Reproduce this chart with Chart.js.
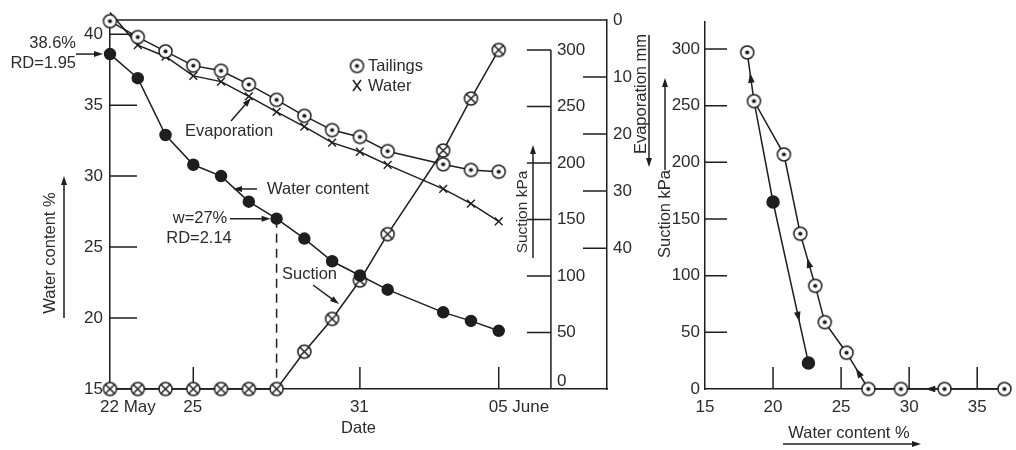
<!DOCTYPE html>
<html>
<head>
<meta charset="utf-8">
<title>Tailings drying: water content, evaporation and suction</title>
<script src="https://cdn.jsdelivr.net/npm/chart.js@4.4.1/dist/chart.umd.min.js"></script>
<style>
  body { margin: 0; background: #fff; }
  #wrap { position: relative; width: 1016px; height: 450px; }
  .box { position: absolute; top: 0; height: 450px; }
  #leftBox { left: 0; width: 700px; }
  #rightBox { left: 640px; width: 376px; }
</style>
</head>
<body>
<div id="wrap">
  <div class="box" id="leftBox"><canvas id="timeChart"></canvas></div>
  <div class="box" id="rightBox"><canvas id="suctionChart"></canvas></div>
</div>
<script>
// days counted from 22 May
const days = [0, 1, 2, 3, 4, 5, 6, 7, 8, 9, 10, 12, 13, 14];
const dateTicks = [0, 3, 9, 14];
const dateLabels = ['22 May', '25', '31', '05 June'];

// water content of the tailings, %
const waterContent = [38.6, 36.9, 32.9, 30.8, 30.0, 28.2, 27.0, 25.6, 24.0, 23.0, 22.0, 20.4, 19.8, 19.1];
// cumulative evaporation, mm
const evapTailings = [0.2, 3.0, 5.5, 8.0, 8.9, 11.3, 14.0, 16.8, 19.3, 20.5, 23.0, 25.3, 26.3, 26.6];
const evapWater = [-1.3, 4.4, 6.4, 9.8, 10.8, 13.4, 16.1, 18.7, 21.5, 23.1, 25.4, 29.6, 32.2, 35.3];
// suction in the tailings, kPa
const suction = [0, 0, 0, 0, 0, 0, 0, 33, 62, 96, 137, 211, 257, 300];

const wcTicks = [15, 20, 25, 30, 35, 40];
const evapTicks = [0, 10, 20, 30, 40];
const suctionTicks = [0, 50, 100, 150, 200, 250, 300];

// suction against water content
const tailW = [37.0, 32.6, 29.4, 27.0, 25.4, 23.8, 23.1, 22.0, 20.8, 18.6, 18.1];
const tailSuction = [0, 0, 0, 0, 32, 59, 91, 137, 207, 254, 297];
const solidW = [18.6, 20.0, 22.6];
const solidSuction = [254, 165, 23];
const wTicks = [15, 20, 25, 30, 35];

const family = "'Liberation Sans', Arial, sans-serif";
const ink = '#1e1e1e';
const textInk = '#2b2b2b';
const noteFont = '16.5px ' + family;
Chart.defaults.font.family = family;
Chart.defaults.font.size = 17;
Chart.defaults.color = textInk;

// circle markers drawn once and reused as point styles
function makeMarker(kind, r) {
    const c = document.createElement('canvas');
    const s = Math.ceil(r * 2 + 4);
    c.width = s;
    c.height = s;
    const g = c.getContext('2d');
    const m = s / 2;
    g.lineWidth = 1.5;
    g.strokeStyle = ink;
    g.fillStyle = '#fff';
    g.beginPath();
    g.arc(m, m, r, 0, Math.PI * 2);
    g.fill();
    g.stroke();
    if (kind === 'dot') {
        g.fillStyle = ink;
        g.beginPath();
        g.arc(m, m, r * 0.32, 0, Math.PI * 2);
        g.fill();
    } else {
        const d = r * 0.7;
        g.beginPath();
        g.moveTo(m - d, m - d); g.lineTo(m + d, m + d);
        g.moveTo(m + d, m - d); g.lineTo(m - d, m + d);
        g.stroke();
    }
    return c;
}
const tailingsMark = makeMarker('dot', 6.5);
const suctionMark = makeMarker('cross', 6.5);

function arrow(ctx, x1, y1, x2, y2, head = 9) {
    const a = Math.atan2(y2 - y1, x2 - x1);
    const c = Math.cos(a), s = Math.sin(a);
    ctx.beginPath();
    ctx.moveTo(x1, y1);
    ctx.lineTo(x2 - c * head * 0.7, y2 - s * head * 0.7);
    ctx.stroke();
    arrowHead(ctx, x2, y2, a, head);
}

function arrowHead(ctx, x, y, a, head = 9) {
    const c = Math.cos(a), s = Math.sin(a), w = head * 0.33;
    ctx.beginPath();
    ctx.moveTo(x, y);
    ctx.lineTo(x - c * head + s * w, y - s * head - c * w);
    ctx.lineTo(x - c * head - s * w, y - s * head + c * w);
    ctx.closePath();
    ctx.fill();
}

function vText(ctx, text, x, y) {
    ctx.save();
    ctx.translate(x, y);
    ctx.rotate(-Math.PI / 2);
    ctx.textAlign = 'center';
    ctx.textBaseline = 'middle';
    ctx.fillText(text, 0, 0);
    ctx.restore();
}

const pts = (xs, ys) => xs.map((v, i) => ({ x: v, y: ys[i] }));
const fixedTicks = list => scale => { scale.ticks = list.map(v => ({ value: v })); };

// the suction axis stands inside the frame, at this many days
const suctionAxisDay = 15.88;

const timeNotes = {
    id: 'timeNotes',
    beforeDatasetsDraw(chart) {
        const { ctx, chartArea: a, scales } = chart;
        const { x, y, evap, suc } = scales;
        ctx.save();
        ctx.strokeStyle = ink;
        ctx.lineWidth = 1.5;
        ctx.beginPath();
        ctx.moveTo(a.left, a.top);
        ctx.lineTo(a.right, a.top);
        dateTicks.slice(1).forEach(v => {
            const px = x.getPixelForValue(v);
            ctx.moveTo(px, a.bottom);
            ctx.lineTo(px, a.bottom - 22);
        });
        wcTicks.slice(1).forEach(v => {
            const py = y.getPixelForValue(v);
            ctx.moveTo(a.left, py);
            ctx.lineTo(a.left + 27, py);
        });
        evapTicks.slice(1).forEach(v => {
            const py = evap.getPixelForValue(v);
            ctx.moveTo(a.right, py);
            ctx.lineTo(a.right - 24, py);
        });
        const sx = x.getPixelForValue(suctionAxisDay);
        ctx.moveTo(sx, suc.getPixelForValue(suctionTicks[suctionTicks.length - 1]));
        ctx.lineTo(sx, a.bottom);
        suctionTicks.slice(1).forEach(v => {
            const py = suc.getPixelForValue(v);
            ctx.moveTo(sx - 24, py);
            ctx.lineTo(sx, py);
        });
        ctx.stroke();

        ctx.fillStyle = textInk;
        ctx.font = '17px ' + family;
        ctx.textAlign = 'left';
        suctionTicks.forEach(v => {
            ctx.textBaseline = v ? 'middle' : 'bottom';
            ctx.fillText(String(v), sx + 6, suc.getPixelForValue(v) + (v ? 0 : 1));
        });
        ctx.restore();
    },
    afterDraw(chart) {
        const { ctx, scales } = chart;
        const { x, y } = scales;
        ctx.save();
        ctx.strokeStyle = ink;
        ctx.fillStyle = ink;
        ctx.lineWidth = 1.5;

        // axis titles with their arrows
        ctx.font = noteFont;
        ctx.fillStyle = textInk;
        vText(ctx, 'Water content %', 50, 253);
        vText(ctx, 'Evaporation mm', 641, 94);
        ctx.font = '15.5px ' + family;
        vText(ctx, 'Suction kPa', 523, 212);
        ctx.fillStyle = ink;
        arrow(ctx, 64, 318, 64, 176);
        arrow(ctx, 649, 35, 649, 167);
        arrow(ctx, 533, 258, 533, 145);

        // notes pointing at the curves
        const p0 = { x: x.getPixelForValue(days[0]), y: y.getPixelForValue(waterContent[0]) };
        const p6 = { x: x.getPixelForValue(days[6]), y: y.getPixelForValue(waterContent[6]) };
        arrow(ctx, 76, p0.y, p0.x - 7, p0.y);
        arrow(ctx, 230, p6.y, p6.x - 6, p6.y);
        arrow(ctx, 231, 121, 251, 98);
        arrow(ctx, 257, 189, 233, 189);
        arrow(ctx, 313, 285, 339, 304);

        ctx.fillStyle = textInk;
        ctx.font = noteFont;
        ctx.textBaseline = 'middle';
        ctx.textAlign = 'right';
        ctx.fillText('38.6%', 76, 43);
        ctx.fillText('RD=1.95', 76, 63);
        ctx.textAlign = 'center';
        ctx.fillText('w=27%', 200, 218);
        ctx.fillText('RD=2.14', 199, 238);
        ctx.textAlign = 'left';
        ctx.fillText('Evaporation', 185, 131);
        ctx.fillText('Water content', 267, 189);
        ctx.fillText('Suction', 282, 274);

        // key
        ctx.drawImage(tailingsMark, 357 - tailingsMark.width / 2, 66 - tailingsMark.height / 2);
        ctx.beginPath();
        ctx.moveTo(353, 80); ctx.lineTo(361, 91);
        ctx.moveTo(361, 80); ctx.lineTo(353, 91);
        ctx.stroke();
        ctx.fillText('Tailings', 368, 66);
        ctx.fillText('Water', 368, 86);
        ctx.restore();
    }
};

const lineStyle = { borderColor: ink, borderWidth: 1.5, tension: 0, fill: false, clip: false };

new Chart(document.getElementById('timeChart'), {
    type: 'line',
    data: {
        datasets: [
            {
                ...lineStyle,
                label: 'Tailings',
                data: pts(days, evapTailings),
                yAxisID: 'evap',
                pointStyle: tailingsMark
            },
            {
                ...lineStyle,
                label: 'Water',
                data: pts(days, evapWater),
                yAxisID: 'evap',
                pointStyle: 'crossRot',
                pointRadius: 5.5,
                pointBorderColor: ink,
                pointBorderWidth: 1.4
            },
            {
                ...lineStyle,
                label: 'Water content',
                data: pts(days, waterContent),
                yAxisID: 'y',
                pointStyle: 'circle',
                pointRadius: 5.5,
                pointBackgroundColor: ink,
                pointBorderColor: ink
            },
            {
                ...lineStyle,
                label: 'Suction',
                data: pts(days, suction),
                yAxisID: 'suc',
                pointStyle: suctionMark
            },
            {
                ...lineStyle,
                label: 'w=27%',
                data: [{ x: days[6], y: waterContent[6] }, { x: days[6], y: wcTicks[0] }],
                yAxisID: 'y',
                borderDash: [9, 6],
                pointRadius: 0
            }
        ]
    },
    options: {
        responsive: true,
        maintainAspectRatio: false,
        animation: false,
        events: [],
        layout: { padding: { top: 20, left: 0, right: 0, bottom: 0 } },
        scales: {
            x: {
                type: 'linear',
                min: 0,
                max: 17.9,
                grid: { display: false, drawTicks: false },
                border: { color: ink, width: 1.5 },
                afterBuildTicks: fixedTicks(dateTicks),
                afterFit: s => { s.height = 61; },
                ticks: {
                    align: 'start',
                    labelOffset: -10,
                    padding: 8,
                    maxRotation: 0,
                    autoSkip: false,
                    callback: v => dateLabels[dateTicks.indexOf(v)]
                },
                title: { display: true, text: 'Date', font: { size: 16.5 }, padding: { top: 0, bottom: 12 } }
            },
            y: {
                position: 'left',
                min: 15,
                max: 41,
                grid: { display: false, drawTicks: false },
                border: { color: ink, width: 1.5 },
                afterBuildTicks: fixedTicks(wcTicks),
                afterFit: s => { s.width = 110; },
                ticks: { padding: 7 }
            },
            evap: {
                position: 'right',
                reverse: true,
                min: 0,
                max: 64.7,
                grid: { display: false, drawTicks: false },
                border: { color: ink, width: 1.5 },
                afterBuildTicks: fixedTicks(evapTicks),
                afterFit: s => { s.width = 93; },
                ticks: { padding: 6 }
            },
            suc: { display: false, min: 0, max: 326.5 }
        },
        plugins: { legend: { display: false }, tooltip: { enabled: false } }
    },
    plugins: [timeNotes]
});

// direction marks along the curves: dataset, segment, fraction along it
const flowMarks = [[0, 1, 0.35], [0, 3, 0.48], [0, 6, 0.46], [0, 9, 0.5], [1, 1, 0.72]];

const suctionNotes = {
    id: 'suctionNotes',
    beforeDatasetsDraw(chart) {
        const { ctx, chartArea: a, scales } = chart;
        const { x, y } = scales;
        ctx.save();
        ctx.strokeStyle = ink;
        ctx.lineWidth = 1.5;
        ctx.beginPath();
        wTicks.slice(1).forEach(v => {
            const px = x.getPixelForValue(v);
            ctx.moveTo(px, a.bottom);
            ctx.lineTo(px, a.bottom - 22);
        });
        suctionTicks.slice(1).forEach(v => {
            const py = y.getPixelForValue(v);
            ctx.moveTo(a.left, py);
            ctx.lineTo(a.left + 22, py);
        });
        ctx.stroke();
        ctx.restore();
    },
    afterDatasetsDraw(chart) {
        const { ctx } = chart;
        ctx.save();
        ctx.fillStyle = ink;
        flowMarks.forEach(([ds, seg, t]) => {
            const pts = chart.getDatasetMeta(ds).data;
            const p = pts[seg], q = pts[seg + 1];
            const a = Math.atan2(q.y - p.y, q.x - p.x);
            arrowHead(ctx, p.x + (q.x - p.x) * t + Math.cos(a) * 4, p.y + (q.y - p.y) * t + Math.sin(a) * 4, a, 10);
        });
        ctx.restore();
    },
    afterDraw(chart) {
        const { ctx } = chart;
        ctx.save();
        ctx.strokeStyle = ink;
        ctx.lineWidth = 1.5;
        ctx.fillStyle = textInk;
        ctx.font = noteFont;
        vText(ctx, 'Suction kPa', 25, 214);
        ctx.textAlign = 'center';
        ctx.textBaseline = 'middle';
        ctx.fillText('Water content %', 209, 433);
        ctx.fillStyle = ink;
        arrow(ctx, 25, 170, 25, 78);
        arrow(ctx, 143, 444, 281, 444);
        ctx.restore();
    }
};

new Chart(document.getElementById('suctionChart'), {
    type: 'line',
    data: {
        datasets: [
            {
                ...lineStyle,
                label: 'Tailings',
                data: pts(tailW, tailSuction),
                pointStyle: makeMarker('dot', 6.5)
            },
            {
                ...lineStyle,
                label: 'Water content',
                data: pts(solidW, solidSuction),
                pointStyle: 'circle',
                pointRadius: [0, 6, 6],
                pointBackgroundColor: ink,
                pointBorderColor: ink
            }
        ]
    },
    options: {
        responsive: true,
        maintainAspectRatio: false,
        animation: false,
        events: [],
        layout: { padding: { top: 22, left: 0, right: 6, bottom: 0 } },
        scales: {
            x: {
                type: 'linear',
                min: 15,
                max: 37.3,
                grid: { display: false, drawTicks: false },
                border: { color: ink, width: 1.5 },
                afterBuildTicks: fixedTicks(wTicks),
                afterFit: s => { s.height = 61; },
                ticks: { padding: 8, maxRotation: 0, autoSkip: false }
            },
            y: {
                min: 0,
                max: 323.8,
                grid: { display: false, drawTicks: false },
                border: { color: ink, width: 1.5 },
                afterBuildTicks: fixedTicks(suctionTicks),
                afterFit: s => { s.width = 65; },
                ticks: { padding: 5 }
            }
        },
        plugins: { legend: { display: false }, tooltip: { enabled: false } }
    },
    plugins: [suctionNotes]
});
</script>
</body>
</html>
